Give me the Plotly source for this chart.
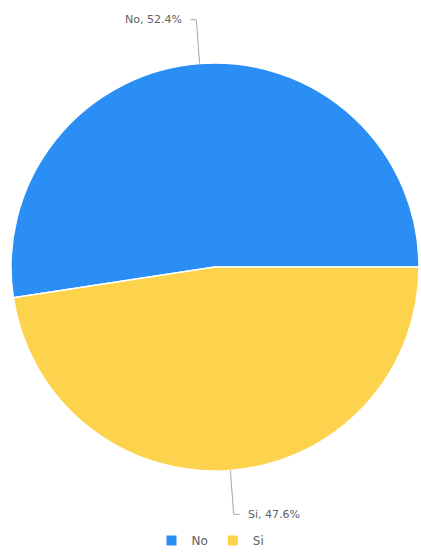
import math
import plotly.graph_objects as go

labels = ["No", "Si"]
values = [52.4, 47.6]
colors = ["#2a8ef4", "#fdd24c"]

W, H = 421, 555
CX, CY, R = 215, 267, 204          # pie centre and radius in pixels
LEAD_LEN = 44                        # radial leader length (px)
HOOK = 6                             # horizontal hook (px)

total = sum(values)
first_span = 360 * values[0] / total
# first slice ends at 3 o'clock, running clockwise over the top
rotation = 90 - first_span

fig = go.Figure()
fig.add_trace(go.Pie(
    labels=labels,
    values=values,
    sort=False,
    direction="clockwise",
    rotation=rotation,
    marker=dict(colors=colors, line=dict(color="#ffffff", width=1.5)),
    textinfo="none",
    hoverinfo="label+percent",
    domain=dict(x=[(CX - R) / W, (CX + R) / W],
                y=[1 - (CY + R) / H, 1 - (CY - R) / H]),
))

def px(x):
    return x / W

def py(y):
    return 1 - y / H

# leader lines and labels, placed at each slice's mid-angle
angle = 0.0  # math angle (ccw from east) where the first slice starts
for lab, v in zip(labels, values):
    span = 360 * v / total
    mid = math.radians(angle + span / 2)
    angle += span
    ex, ey = CX + R * math.cos(mid), CY - R * math.sin(mid)
    ox, oy = CX + (R + LEAD_LEN) * math.cos(mid), CY - (R + LEAD_LEN) * math.sin(mid)
    side = 1 if math.cos(mid) >= 0 else -1
    hx = ox + side * HOOK
    fig.add_shape(
        type="path", xref="paper", yref="paper",
        path=f"M {px(ex)} {py(ey)} L {px(ox)} {py(oy)} L {px(hx)} {py(oy)}",
        line=dict(color="#a6a6a6", width=1),
    )
    fig.add_annotation(
        x=px(hx + side * 6), y=py(oy), xref="paper", yref="paper",
        text=f"{lab}, {100 * v / total:.1f}%",
        showarrow=False,
        xanchor="left" if side > 0 else "right", yanchor="middle",
        font=dict(family="DejaVu Sans, Verdana, sans-serif", size=11, color="#5f5f5f"),
    )

fig.update_layout(
    width=W, height=H,
    margin=dict(l=0, r=0, t=0, b=0),
    paper_bgcolor="#ffffff",
    plot_bgcolor="#ffffff",
    showlegend=True,
    legend=dict(
        orientation="h", x=0.5, xanchor="center", y=0.0, yanchor="bottom",
        font=dict(family="DejaVu Sans, Verdana, sans-serif", size=12, color="#5f5f5f"),
        itemsizing="constant",
    ),
)

fig.write_html("out.html")
